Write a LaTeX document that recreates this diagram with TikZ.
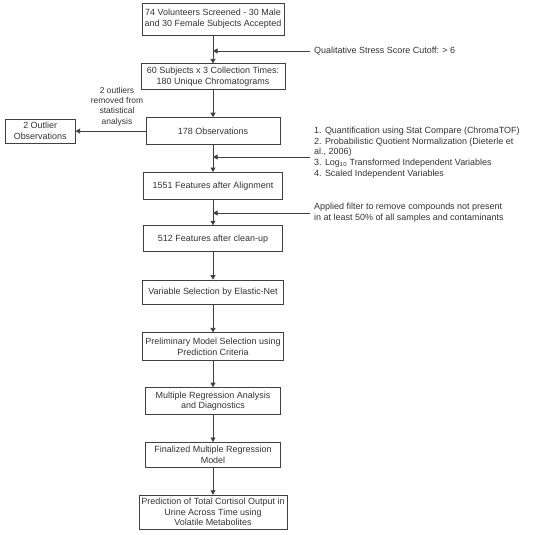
\documentclass[tikz,border=0pt]{standalone}
\usepackage{fontspec}
\setmainfont{Liberation Sans}
\usetikzlibrary{positioning}
\usetikzlibrary{arrows.meta}

\tikzset{
  stepbox/.style={draw=black!75, line width=0.8bp, rectangle, align=center,
    minimum height=26bp, inner xsep=1bp, inner ysep=1bp, text=black!80,
    font=\fontsize{9}{10.8}\selectfont},
  flow/.style={-{Triangle[length=4.5bp,width=5bp]}, draw=black!75, line width=0.8bp},
  note/.style={align=left, inner xsep=4bp, inner ysep=0pt, text=black!80,
    font=\fontsize{9}{10.8}\selectfont}
}

\begin{document}
\begin{tikzpicture}[x=1bp, y=1bp, node distance=27bp]
\useasboundingbox (0,0) rectangle (550,-535);
% main column
\node[stepbox, minimum width=142bp, minimum height=32bp] (screen) at (213,-19) {74 Volunteers Screened - 30 Male\\and 30 Female Subjects Accepted};
\node[stepbox, minimum width=144bp, below=28bp of screen] (chrom) {60 Subjects x 3 Collection Times:\\180 Unique Chromatograms};
\node[stepbox, minimum width=134bp, minimum height=27bp, below=of chrom] (obs) {178 Observations};
\node[stepbox, minimum width=139bp, minimum height=27bp, below=of obs] (align) {1551 Features after Alignment};
\node[stepbox, minimum width=139bp, below=25.5bp of align] (clean) {512 Features after clean-up};
\node[stepbox, minimum width=141bp, minimum height=24bp, below=27.5bp of clean] (enet) {Variable Selection by Elastic-Net};
\node[stepbox, minimum width=141bp, minimum height=28bp, below=28bp of enet] (prelim) {Preliminary Model Selection using\\Prediction Criteria};
\node[stepbox, minimum width=135bp, minimum height=27bp, below=26bp of prelim] (mra) {Multiple Regression Analysis\\and Diagnostics};
\node[stepbox, minimum width=135bp, minimum height=25bp, below=of mra] (final) {Finalized Multiple Regression\\Model};
\node[stepbox, minimum width=148bp, minimum height=34bp, below=of final, font=\fontsize{9}{10.5}\selectfont] (pred) {Prediction of Total Cortisol Output in\\Urine Across Time using\\Volatile Metabolites};
\foreach \a/\b in {screen/chrom, chrom/obs, obs/align, align/clean, clean/enet, enet/prelim, prelim/mra, mra/final, final/pred}
  \draw[flow] (\a) -- (\b);

% outliers
\node[stepbox, minimum width=70bp, minimum height=24bp, left=70bp of obs] (outl) {2 Outlier\\Observations};
\draw[flow] (obs.west) -- (outl.east);
\node[note, align=center, anchor=south, inner sep=1bp, font=\fontsize{8.5}{10.3}\selectfont] (outlab) at (117,-127) {2 outliers\\removed from\\statistical\\analysis};

% side notes
\node[note, anchor=west] (cutoff) at (310,-51) {Qualitative Stress Score Cutoff: > 6};
\draw[flow] (cutoff.west) -- (cutoff.west -| screen.south);
\node[note, anchor=west] (steps) at (310,-152.5) {1. Quantification using Stat Compare (ChromaTOF)\\2. Probabilistic Quotient Normalization (Dieterle et\\al., 2006)\\3. Log\textsubscript{10} Transformed Independent Variables\\4. Scaled Independent Variables};
\coordinate (stepsin) at (310,-157);
\draw[flow] (stepsin) -- (stepsin -| obs.south);
\node[note, anchor=west] (filter) at (310,-213) {Applied filter to remove compounds not present\\in at least 50\% of all samples and contaminants};
\draw[flow] (filter.west) -- (filter.west -| align.south);
\end{tikzpicture}
\end{document}
